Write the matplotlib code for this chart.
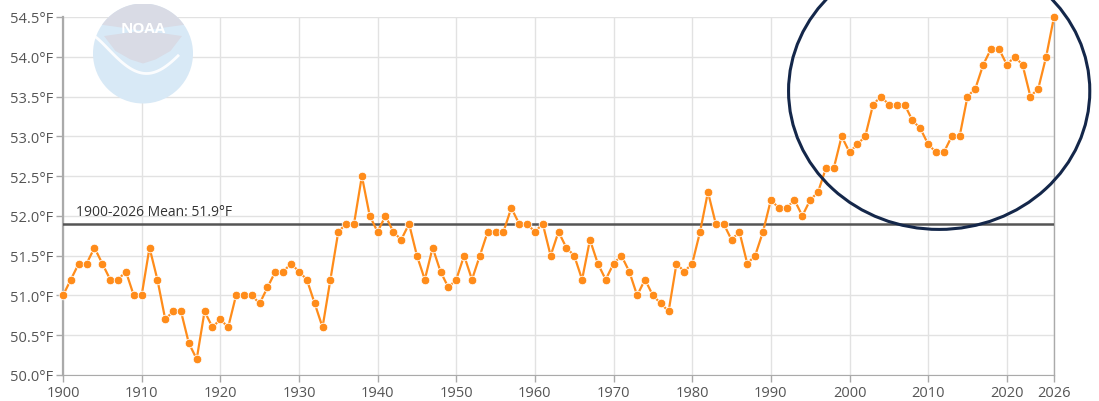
import matplotlib
matplotlib.use("Agg")
import matplotlib.pyplot as plt
from matplotlib.patches import Circle, Ellipse, Polygon
import numpy as np

plt.rcParams["font.family"] = ["Open Sans", "DejaVu Sans"]

years = list(range(1900, 2027))
temps = [
    51.0, 51.2, 51.4, 51.4, 51.6, 51.4, 51.2, 51.2, 51.3, 51.0,  # 1900s
    51.0, 51.6, 51.2, 50.7, 50.8, 50.8, 50.4, 50.2, 50.8, 50.6,  # 1910s
    50.7, 50.6, 51.0, 51.0, 51.0, 50.9, 51.1, 51.3, 51.3, 51.4,  # 1920s
    51.3, 51.2, 50.9, 50.6, 51.2, 51.8, 51.9, 51.9, 52.5, 52.0,  # 1930s
    51.8, 52.0, 51.8, 51.7, 51.9, 51.5, 51.2, 51.6, 51.3, 51.1,  # 1940s
    51.2, 51.5, 51.2, 51.5, 51.8, 51.8, 51.8, 52.1, 51.9, 51.9,  # 1950s
    51.8, 51.9, 51.5, 51.8, 51.6, 51.5, 51.2, 51.7, 51.4, 51.2,  # 1960s
    51.4, 51.5, 51.3, 51.0, 51.2, 51.0, 50.9, 50.8, 51.4, 51.3,  # 1970s
    51.4, 51.8, 52.3, 51.9, 51.9, 51.7, 51.8, 51.4, 51.5, 51.8,  # 1980s
    52.2, 52.1, 52.1, 52.2, 52.0, 52.2, 52.3, 52.6, 52.6, 53.0,  # 1990s
    52.8, 52.9, 53.0, 53.4, 53.5, 53.4, 53.4, 53.4, 53.2, 53.1,  # 2000s
    52.9, 52.8, 52.8, 53.0, 53.0, 53.5, 53.6, 53.9, 54.1, 54.1,  # 2010s
    53.9, 54.0, 53.9, 53.5, 53.6, 54.0, 54.5,                    # 2020s
]
mean_value = 51.9
mean_label = "1900-2026 Mean: 51.9°F"

x_ticks = [1900, 1910, 1920, 1930, 1940, 1950, 1960, 1970, 1980, 1990, 2000, 2010, 2020, 2026]
y_ticks = [50.0, 50.5, 51.0, 51.5, 52.0, 52.5, 53.0, 53.5, 54.0, 54.5]

ORANGE = "#ff8c1a"
GRID = "#e2e2e2"
TEXT = "#555555"

fig = plt.figure(figsize=(10.99, 4.02), dpi=100)
ax = fig.add_axes([63 / 1099, 1 - 376 / 402, (1054 - 63) / 1099, (376 - 18) / 402])

# NOAA watermark (rough shape only)
cx, cy, r = 143 / 1099, 1 - 54.5 / 402, 50 / 402
fw = 1099 / 402
logo = fig.add_axes([cx - r / fw, cy - r, 2 * r / fw, 2 * r], zorder=0)
logo.set_xlim(-1, 1)
logo.set_ylim(-1, 1)
logo.set_aspect("equal")
logo.axis("off")
logo.add_patch(Circle((0, 0), 1, color="#d8e9f6", lw=0))
t = np.linspace(np.radians(35), np.radians(145), 40)
top = list(zip(np.cos(t), np.sin(t)))
body = [(-0.82, 0.57), (-0.78, 0.35), (-0.55, 0.05), (-0.25, -0.12), (0.0, -0.2),
        (0.25, -0.12), (0.55, 0.05), (0.78, 0.35), (0.82, 0.57)]
logo.add_patch(Polygon(top[::-1] + body[1:-1], closed=True, color="#d9dbe5", lw=0))
sx = np.linspace(-0.98, 0.7, 60)
logo.plot(sx, 0.35 - 0.75 * np.sin((sx + 0.98) / 1.68 * np.pi * 0.8) ** 1.2, color="white", lw=2.0, alpha=0.9)
logo.text(0, 0.5, "NOAA", ha="center", va="center", color="white", fontsize=11, fontweight="bold")

ax.set_facecolor("none")
ax.plot(years, temps, color=ORANGE, linewidth=1.6, marker="o", markersize=6.2,
        markerfacecolor=ORANGE, markeredgecolor="white", markeredgewidth=0.6, zorder=4, clip_on=False)
ax.axhline(mean_value, color="#555555", linewidth=1.8, zorder=3)
ax.text(1901.7, mean_value + 0.06, mean_label, fontsize=10, color="#333333", va="bottom", ha="left")

ax.set_xlim(1900, 2026)
ax.set_ylim(50.0, 54.5)
ax.set_xticks(x_ticks)
ax.set_yticks(y_ticks)
ax.set_yticklabels([f"{v:.1f}°F" for v in y_ticks])
ax.grid(True, color=GRID, linewidth=1.0, zorder=0)
ax.tick_params(axis="both", colors="#aaaaaa", labelcolor=TEXT, labelsize=10.5, length=5, width=1)
ax.tick_params(axis="y", pad=2)
ax.tick_params(axis="x", pad=2)
ax.spines["top"].set_visible(False)
ax.spines["left"].set_color("#aaaaaa")
ax.spines["left"].set_linewidth(1.6)
ax.spines["bottom"].set_color("#aaaaaa")
ax.spines["right"].set_color("#aaaaaa")
ax.spines["right"].set_linewidth(1.0)

# highlight circle
ax.add_patch(Ellipse((2011.4, 53.57), 38.3, 3.48, fill=False, edgecolor="#14274a",
                     linewidth=2.2, clip_on=False, zorder=6))

fig.savefig("out.png", dpi=100)
